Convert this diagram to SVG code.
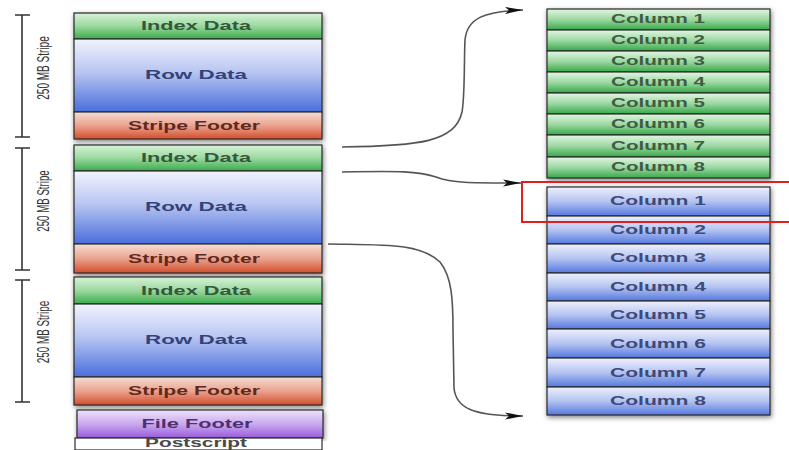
<svg xmlns="http://www.w3.org/2000/svg" width="789" height="450" viewBox="0 0 789 450">
  <defs>
    <linearGradient id="gGreen" x1="0" y1="0" x2="0" y2="1">
      <stop offset="0" stop-color="#d6f2d6"/>
      <stop offset="0.5" stop-color="#9bd9a0"/>
      <stop offset="1" stop-color="#3aab4a"/>
    </linearGradient>
    <linearGradient id="gBlue" x1="0" y1="0" x2="0" y2="1">
      <stop offset="0" stop-color="#f2f3fc"/>
      <stop offset="0.45" stop-color="#b8c6f2"/>
      <stop offset="1" stop-color="#4a6edc"/>
    </linearGradient>
    <linearGradient id="gRed" x1="0" y1="0" x2="0" y2="1">
      <stop offset="0" stop-color="#f6ddd4"/>
      <stop offset="0.5" stop-color="#eba38f"/>
      <stop offset="1" stop-color="#d34e2c"/>
    </linearGradient>
    <linearGradient id="gPurple" x1="0" y1="0" x2="0" y2="1">
      <stop offset="0" stop-color="#ede2fa"/>
      <stop offset="0.5" stop-color="#c9a9ef"/>
      <stop offset="1" stop-color="#9a5bdb"/>
    </linearGradient>
    <linearGradient id="gColGreen" x1="0" y1="0" x2="0" y2="1">
      <stop offset="0" stop-color="#e2f6e2"/>
      <stop offset="0.5" stop-color="#9cd8a2"/>
      <stop offset="1" stop-color="#36a847"/>
    </linearGradient>
    <linearGradient id="gColBlue" x1="0" y1="0" x2="0" y2="1">
      <stop offset="0" stop-color="#eef1fc"/>
      <stop offset="0.5" stop-color="#b4c3f1"/>
      <stop offset="1" stop-color="#5478df"/>
    </linearGradient>
    <filter id="shadow" x="-10%" y="-10%" width="120%" height="120%">
      <feDropShadow dx="1" dy="2" stdDeviation="2.5" flood-color="#000" flood-opacity="0.5"/>
    </filter>
    <marker id="dart" markerUnits="userSpaceOnUse" markerWidth="20" markerHeight="10" refX="18" refY="5" orient="auto">
      <path d="M0,1.5 L18,5 L0,8.5 L4,5 Z" fill="#111"/>
    </marker>
    <style>
      .box { stroke: #2a2a2a; stroke-width: 1.2; }
      .lbl { font-family: "Liberation Sans", Arial, sans-serif; font-weight: bold; font-size: 12.5px; text-anchor: middle; }
      .tg { fill: #35573a; }
      .tb { fill: #34427a; }
      .tr { fill: #5e2a1e; }
      .tp { fill: #4e2f72; }
      .tw { fill: #4a4a4a; }
      .col { font-family: "Liberation Sans", Arial, sans-serif; font-weight: bold; font-size: 12px; text-anchor: middle; }
      .cg { fill: #3f5d43; }
      .cb { fill: #3d4a7a; }
      .brk { stroke: #333; stroke-width: 1.6; fill: none; }
      .side { font-family: "Liberation Sans", Arial, sans-serif; font-size: 17px; fill: #333; text-anchor: middle; }
      .link { stroke: #555; stroke-width: 1.6; fill: none; marker-end: url(#dart); }
    </style>
  </defs>

  <rect width="789" height="450" fill="#ffffff"/>

  <!-- stripe size brackets (labels condensed horizontally before rotation) -->
  <g id="stripe-brackets">
    <path class="brk" d="M22,15 V137 M15,15 H30 M15,137 H30"/>
    <text class="side" transform="translate(49,68) rotate(-90) scale(0.59,1)">250 MB Stripe</text>
    <path class="brk" d="M22,148 V270 M15,148 H30 M15,270 H30"/>
    <text class="side" transform="translate(49,201) rotate(-90) scale(0.57,1)">250 MB Stripe</text>
    <path class="brk" d="M22,280 V402 M15,280 H30 M15,402 H30"/>
    <text class="side" transform="translate(49,332) rotate(-90) scale(0.58,1)">250 MB Stripe</text>
  </g>

  <!-- stripe 1 -->
  <g id="stripe1" filter="url(#shadow)">
    <rect class="box" x="74" y="13" width="248" height="26" fill="url(#gGreen)"/>
    <rect class="box" x="74" y="39" width="248" height="73" fill="url(#gBlue)"/>
    <rect class="box" x="74" y="112" width="248" height="27" fill="url(#gRed)"/>
  </g>
  <g id="stripe1-labels">
    <text class="lbl tg" x="196" y="30" textLength="110" lengthAdjust="spacingAndGlyphs">Index Data</text>
    <text class="lbl tb" x="196" y="79" textLength="102" lengthAdjust="spacingAndGlyphs">Row Data</text>
    <text class="lbl tr" x="194" y="130" textLength="132" lengthAdjust="spacingAndGlyphs">Stripe Footer</text>
  </g>

  <!-- stripe 2 -->
  <g id="stripe2" filter="url(#shadow)">
    <rect class="box" x="74" y="145" width="248" height="26" fill="url(#gGreen)"/>
    <rect class="box" x="74" y="171" width="248" height="73" fill="url(#gBlue)"/>
    <rect class="box" x="74" y="244" width="248" height="29" fill="url(#gRed)"/>
  </g>
  <g id="stripe2-labels">
    <text class="lbl tg" x="196" y="162" textLength="110" lengthAdjust="spacingAndGlyphs">Index Data</text>
    <text class="lbl tb" x="196" y="211" textLength="102" lengthAdjust="spacingAndGlyphs">Row Data</text>
    <text class="lbl tr" x="194" y="263" textLength="132" lengthAdjust="spacingAndGlyphs">Stripe Footer</text>
  </g>

  <!-- stripe 3 -->
  <g id="stripe3" filter="url(#shadow)">
    <rect class="box" x="74" y="277" width="248" height="27" fill="url(#gGreen)"/>
    <rect class="box" x="74" y="304" width="248" height="73" fill="url(#gBlue)"/>
    <rect class="box" x="74" y="377" width="248" height="28" fill="url(#gRed)"/>
  </g>
  <g id="stripe3-labels">
    <text class="lbl tg" x="196" y="295" textLength="110" lengthAdjust="spacingAndGlyphs">Index Data</text>
    <text class="lbl tb" x="196" y="344" textLength="102" lengthAdjust="spacingAndGlyphs">Row Data</text>
    <text class="lbl tr" x="194" y="395" textLength="132" lengthAdjust="spacingAndGlyphs">Stripe Footer</text>
  </g>

  <!-- file footer and postscript -->
  <g id="file-footer" filter="url(#shadow)">
    <rect class="box" x="77" y="410" width="246" height="28" fill="url(#gPurple)"/>
  </g>
  <text class="lbl tp" x="197" y="428" textLength="111" lengthAdjust="spacingAndGlyphs">File Footer</text>
  <g id="postscript">
    <rect class="box" x="75" y="438" width="247" height="12" fill="#ffffff"/>
    <text class="lbl tw" x="196" y="447" textLength="102" lengthAdjust="spacingAndGlyphs">Postscript</text>
  </g>

  <!-- index columns -->
  <g id="index-columns" filter="url(#shadow)">
    <rect class="box" x="547" y="9" width="223" height="21" fill="url(#gColGreen)"/>
    <rect class="box" x="547" y="30" width="223" height="21" fill="url(#gColGreen)"/>
    <rect class="box" x="547" y="51" width="223" height="21" fill="url(#gColGreen)"/>
    <rect class="box" x="547" y="72" width="223" height="21" fill="url(#gColGreen)"/>
    <rect class="box" x="547" y="93" width="223" height="21" fill="url(#gColGreen)"/>
    <rect class="box" x="547" y="114" width="223" height="21" fill="url(#gColGreen)"/>
    <rect class="box" x="547" y="135" width="223" height="22" fill="url(#gColGreen)"/>
    <rect class="box" x="547" y="157" width="223" height="21" fill="url(#gColGreen)"/>
  </g>
  <g id="index-column-labels">
    <text class="col cg" x="658" y="23" textLength="94" lengthAdjust="spacingAndGlyphs">Column 1</text>
    <text class="col cg" x="658" y="44" textLength="94" lengthAdjust="spacingAndGlyphs">Column 2</text>
    <text class="col cg" x="658" y="65" textLength="94" lengthAdjust="spacingAndGlyphs">Column 3</text>
    <text class="col cg" x="658" y="86" textLength="94" lengthAdjust="spacingAndGlyphs">Column 4</text>
    <text class="col cg" x="658" y="107" textLength="94" lengthAdjust="spacingAndGlyphs">Column 5</text>
    <text class="col cg" x="658" y="128" textLength="94" lengthAdjust="spacingAndGlyphs">Column 6</text>
    <text class="col cg" x="658" y="150" textLength="94" lengthAdjust="spacingAndGlyphs">Column 7</text>
    <text class="col cg" x="658" y="171" textLength="94" lengthAdjust="spacingAndGlyphs">Column 8</text>
  </g>

  <!-- row data columns -->
  <g id="data-columns" filter="url(#shadow)">
    <rect class="box" x="547" y="187" width="223" height="29" fill="url(#gColBlue)"/>
    <rect class="box" x="547" y="216" width="223" height="28" fill="url(#gColBlue)"/>
    <rect class="box" x="547" y="244" width="223" height="29" fill="url(#gColBlue)"/>
    <rect class="box" x="547" y="273" width="223" height="28" fill="url(#gColBlue)"/>
    <rect class="box" x="547" y="301" width="223" height="28" fill="url(#gColBlue)"/>
    <rect class="box" x="547" y="329" width="223" height="29" fill="url(#gColBlue)"/>
    <rect class="box" x="547" y="358" width="223" height="29" fill="url(#gColBlue)"/>
    <rect class="box" x="547" y="387" width="223" height="28" fill="url(#gColBlue)"/>
  </g>
  <g id="data-column-labels">
    <text class="col cb" x="658" y="205" textLength="96" lengthAdjust="spacingAndGlyphs">Column 1</text>
    <text class="col cb" x="658" y="234" textLength="96" lengthAdjust="spacingAndGlyphs">Column 2</text>
    <text class="col cb" x="658" y="262" textLength="96" lengthAdjust="spacingAndGlyphs">Column 3</text>
    <text class="col cb" x="658" y="291" textLength="96" lengthAdjust="spacingAndGlyphs">Column 4</text>
    <text class="col cb" x="658" y="319" textLength="96" lengthAdjust="spacingAndGlyphs">Column 5</text>
    <text class="col cb" x="658" y="348" textLength="96" lengthAdjust="spacingAndGlyphs">Column 6</text>
    <text class="col cb" x="658" y="377" textLength="96" lengthAdjust="spacingAndGlyphs">Column 7</text>
    <text class="col cb" x="658" y="405" textLength="96" lengthAdjust="spacingAndGlyphs">Column 8</text>
  </g>

  <!-- highlight around data column 1 -->
  <rect id="highlight" x="522" y="182" width="280" height="40" fill="none" stroke="#e02020" stroke-width="2"/>

  <!-- connectors -->
  <g id="connectors">
    <path class="link" d="M342,147 C420,146 455,142 462,112 C465,95 464,60 465,40 C467,18 485,11 523,10"/>
    <path class="link" d="M342,172 C400,171 418,171 436,177 C452,183 468,183 521,183"/>
    <path class="link" d="M328,244 C385,245 420,243 440,262 C452,277 453,300 453,330 L454,388 C456,408 472,416 523,416"/>
  </g>
</svg>
